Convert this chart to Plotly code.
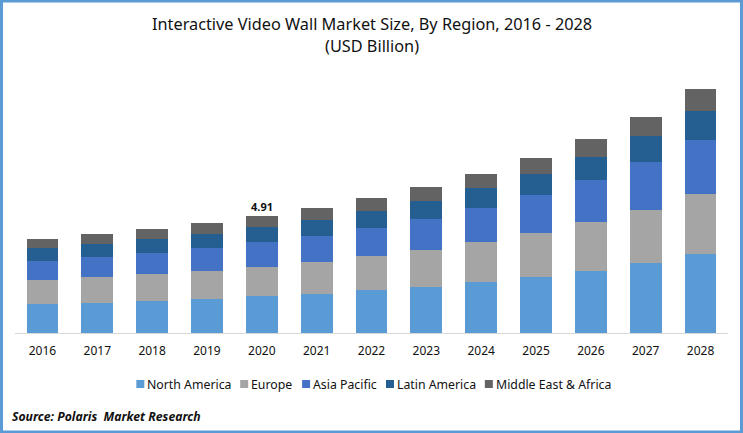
import plotly.graph_objects as go

years = ["2016", "2017", "2018", "2019", "2020", "2021", "2022", "2023", "2024", "2025", "2026", "2027", "2028"]
north_america = [1.22, 1.26, 1.34, 1.43, 1.55, 1.64, 1.80, 1.93, 2.14, 2.35, 2.60, 2.94, 3.32]
europe = [1.01, 1.09, 1.13, 1.17, 1.22, 1.34, 1.43, 1.55, 1.68, 1.85, 2.06, 2.22, 2.52]
asia_pacific = [0.80, 0.84, 0.88, 0.97, 1.05, 1.09, 1.17, 1.30, 1.43, 1.59, 1.76, 2.01, 2.27]
latin_america = [0.55, 0.55, 0.59, 0.59, 0.63, 0.67, 0.71, 0.76, 0.84, 0.88, 0.97, 1.09, 1.22]
middle_east = [0.38, 0.42, 0.42, 0.46, 0.46, 0.50, 0.55, 0.59, 0.59, 0.67, 0.76, 0.80, 0.92]

names = ["North America", "Europe", "Asia Pacific", "Latin America", "Middle East & Africa"]
series = [north_america, europe, asia_pacific, latin_america, middle_east]
colors = ["#5B9BD5", "#A5A5A5", "#4472C4", "#255E91", "#636363"]

W, H = 743, 433
ML, MR, MT, MB = 14.5, 14.5, 80, 100
FONT = "Noto Sans"


def px(x):
    return (x - ML) / (W - ML - MR)


def py(y):
    return (H - MB - y) / (H - MT - MB)


def label(x, y, text, size=12.3, xanchor="center"):
    return dict(x=px(x), y=py(y), xref="paper", yref="paper", xanchor=xanchor, yanchor="middle", text=text,
                showarrow=False, font=dict(family=FONT, size=size, color="#111111"))


fig = go.Figure()
for name, values, color in zip(names, series, colors):
    fig.add_trace(go.Bar(x=years, y=values, name=name, marker=dict(color=color, line=dict(width=0))))

idx = years.index("2020")
annotations = [
    label(371.5, 24.5, "Interactive Video Wall Market Size, By Region, 2016 - 2028", size=16.3),
    label(371.5, 46, "(USD Billion)", size=16.3),
    label(9, 416.5, "<b><i>Source: Polaris  Market Research</i></b>", size=12.2, xanchor="left"),
    dict(x=idx, y=sum(s[idx] for s in series), yanchor="bottom", yshift=0, text="<b>4.91</b>",
         showarrow=False, font=dict(family=FONT, size=11, color="#111111")),
]

# legend drawn by hand, the native one can't do swatches this tight
legend_x = [136, 240, 302, 386, 485]
shapes = [
    dict(type="rect", xref="paper", yref="paper", x0=px(1), x1=px(W - 1), y0=py(1), y1=py(H - 1),
         line=dict(color="#5B9BD5", width=3), fillcolor="rgba(0,0,0,0)"),
]
for x, name, color in zip(legend_x, names, colors):
    shapes.append(dict(type="rect", xref="paper", yref="paper", x0=px(x), x1=px(x + 8), y0=py(380), y1=py(388),
                       line=dict(width=0), fillcolor=color))
    annotations.append(label(x + 9, 384, name, xanchor="left"))

fig.update_layout(
    width=W, height=H,
    margin=dict(l=ML, r=MR, t=MT, b=MB),
    barmode="stack", bargap=0.42,
    showlegend=False,
    paper_bgcolor="white", plot_bgcolor="white",
    annotations=annotations, shapes=shapes,
    xaxis=dict(type="category", range=[-0.5, 12.5], showgrid=False, showline=True, linecolor="#D9D9D9", linewidth=1,
               ticks="", ticklabelstandoff=7, tickfont=dict(family=FONT, size=12, color="#111111")),
    yaxis=dict(range=[0, 10.62], visible=False),
)

fig.write_html("out.html", config=dict(displayModeBar=False), post_script="document.body.style.margin='0';")
